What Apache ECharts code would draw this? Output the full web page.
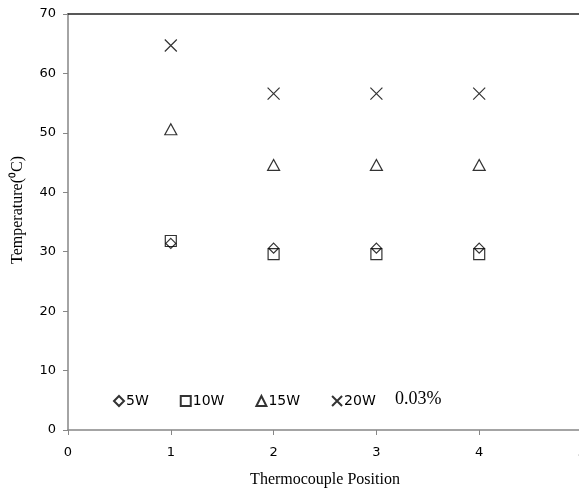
<!DOCTYPE html>
<html lang="en">
<head>
    <meta charset="UTF-8">
    <title>Thermocouple</title>
    <script src="https://cdn.jsdelivr.net/npm/echarts@6/dist/echarts.min.js"></script>
    <style>
        html, body { margin: 0; padding: 0; background: #fff; }
        #chart { width: 579px; height: 493px; }
    </style>
</head>
<body>
    <div id="chart"></div>
    <script>
        // data
        let positions = [1, 2, 3, 4];
        let names = ['5W', '10W', '15W', '20W'];
        let w5 = [31.4, 30.6, 30.6, 30.6];
        let w10 = [31.8, 29.6, 29.6, 29.6];
        let w15 = [50.6, 44.6, 44.6, 44.6];
        let w20 = [64.7, 56.6, 56.6, 56.6];

        let diamond = 'path://M5 0L10 5L5 10L0 5Z';
        let square = 'path://M0 0L10 0L10 10L0 10Z';
        let triangle = 'path://M5 0L10 10L0 10Z';
        let cross = 'path://M0 0L10 10M10 0L0 10';

        function pairs(vals) {
            return positions.map((p, i) => [p, vals[i]]);
        }

        function makeSeries(name, vals, symbol, size) {
            return {
                name: name,
                type: 'scatter',
                data: pairs(vals),
                symbol: symbol,
                symbolSize: size,
                itemStyle: { color: 'rgba(0,0,0,0)', borderColor: '#000', borderWidth: 1.2 },
                emphasis: { disabled: true }
            };
        }

        let chart = echarts.init(document.getElementById('chart'));
        chart.setOption({
            animation: false,
            title: {
                text: '0.03%',
                left: 390, top: 385,
                textStyle: { fontFamily: 'Liberation Serif', fontSize: 18, fontWeight: 'normal', color: '#000' }
            },
            legend: {
                left: 108, top: 389,
                itemWidth: 10, itemHeight: 10, itemGap: 31,
                textStyle: { fontFamily: 'DejaVu Sans', fontSize: 14, color: '#000', padding: [0, 0, 0, -3] },
                data: names
            },
            grid: { left: 68, right: -3, top: 14, bottom: 63, outerBoundsMode: 'none' },
            xAxis: [{
                type: 'value', min: 0, max: 5, interval: 1,
                name: 'Thermocouple Position', nameLocation: 'middle', nameGap: 42,
                nameTextStyle: { fontFamily: 'Liberation Serif', fontSize: 16, color: '#000' },
                axisLine: { lineStyle: { color: '#868686', width: 1.5 } },
                axisTick: { show: true, length: 5, lineStyle: { color: '#868686' } },
                axisLabel: { fontFamily: 'DejaVu Sans', fontSize: 13, color: '#000', margin: 16 },
                splitLine: { show: false }
            }, {
                type: 'value', min: 0, max: 5, position: 'top',
                axisLine: { show: true, lineStyle: { color: '#222', width: 1.5 } },
                axisTick: { show: false }, axisLabel: { show: false }, splitLine: { show: false }
            }],
            yAxis: {
                type: 'value', min: 0, max: 70, interval: 10,
                name: 'Temperature(⁰C)', nameLocation: 'middle', nameGap: 42,
                nameTextStyle: { fontFamily: 'Liberation Serif', fontSize: 16, color: '#000', padding: [0, 0, 0, 24] },
                axisLine: { show: true, lineStyle: { color: '#868686', width: 1.5 } },
                axisTick: { show: true, length: 5, lineStyle: { color: '#868686' } },
                axisLabel: { fontFamily: 'DejaVu Sans', fontSize: 13, color: '#000', margin: 12 },
                splitLine: { show: false }
            },
            series: [
                makeSeries('5W', w5, diamond, 10),
                makeSeries('10W', w10, square, 11),
                makeSeries('15W', w15, triangle, [12, 11]),
                makeSeries('20W', w20, cross, 12)
            ]
        });
    </script>
</body>
</html>
